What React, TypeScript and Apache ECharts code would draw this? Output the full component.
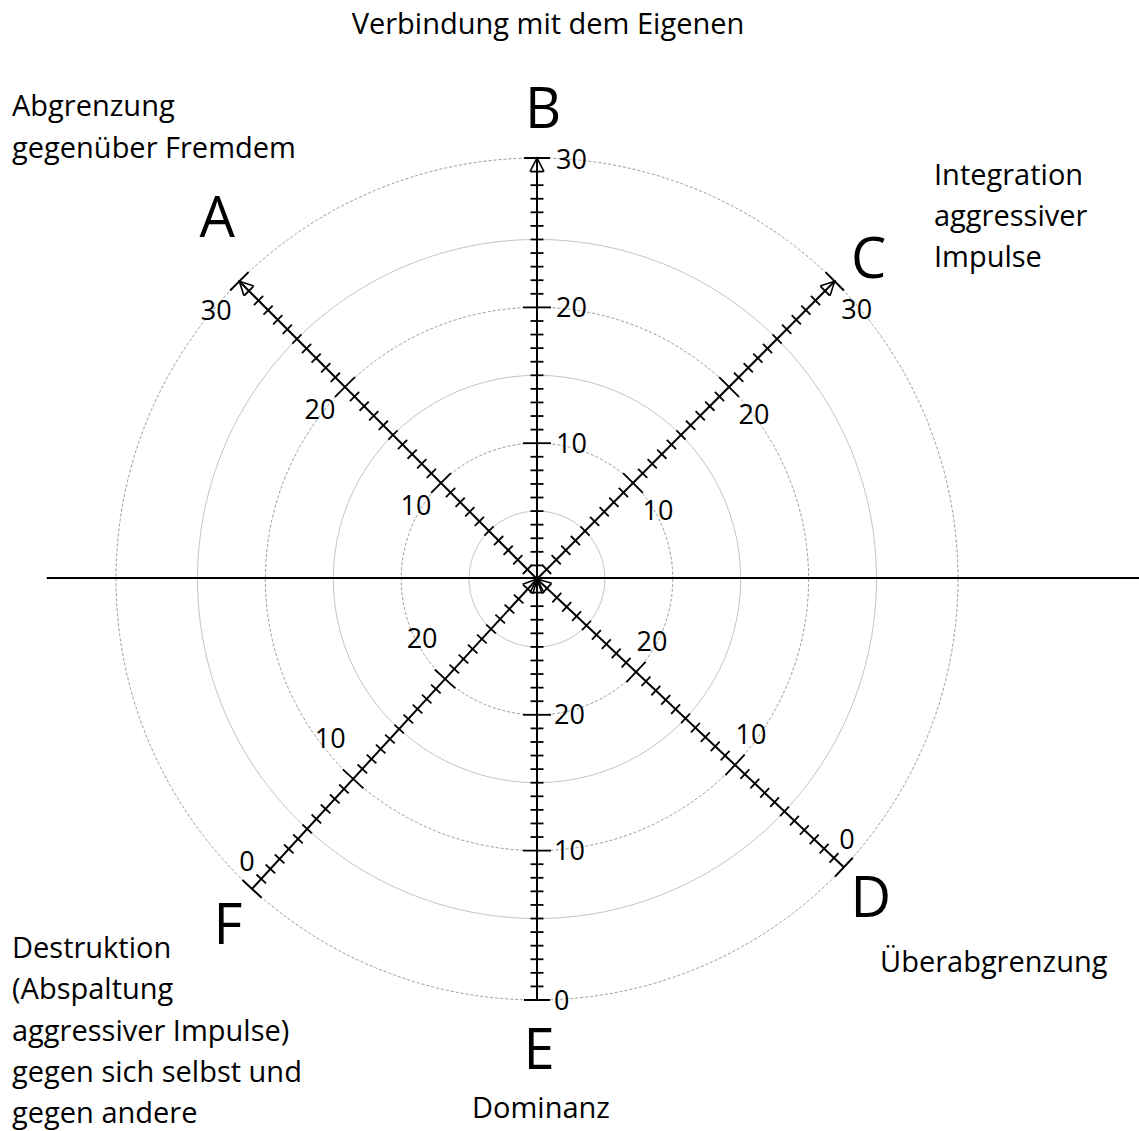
import React, { useEffect, useRef } from "react";
import * as echarts from "echarts";

// ---------- data ----------
const AXIS_NAMES = ["A", "B", "C", "D", "E", "F"];
// polar angle of each axis: 0 = up, clockwise
const AXIS_ANGLES = [315, 0, 45, 133.2, 180, 222.6];
const AXIS_REVERSED = [false, false, false, true, true, true];
const SCALE_MAX = 30; // last tick value
const AXIS_MAX = 31; // arrow / end bar position
const MAJOR_TICKS = [10, 20];
const RING_VALUES = [5, 10, 15, 20, 25, 31];
const RING_DASHED = [false, true, false, true, false, true];
const HLINE_EXTENT = [36.1, 45]; // left / right reach of the horizontal line, in axis units

const TITLE = "Verbindung mit dem Eigenen";
const DESC_A = "Abgrenzung\ngegenüber Fremdem";
const DESC_C = "Integration\naggressiver\nImpulse";
const DESC_D = "Überabgrenzung";
const DESC_E = "Dominanz";
const DESC_F =
  "Destruktion\n(Abspaltung\naggressiver Impulse)\ngegen sich selbst und\ngegen andere";

// ---------- layout / style ----------
const FONT = '"Open Sans", "Noto Sans", sans-serif';
const CENTER = [537, 579];
const RADIUS_PX = 421;
const LABEL_OFF = [
  [-25, 22],
  [19, -1],
  [25, 27],
  [16, -31],
  [17, -1],
  [-23, -41],
];
const END_LABEL_OFF = [
  [-23, 28],
  [19, 0],
  [22, 27],
  [3, -29],
  [17, -1],
  [-5, -28],
];
const LABEL_ALIGN = ["center", "left", "center", "center", "left", "center"];
const LETTER_OFF = [
  [-22, -66],
  [6, -52],
  [34, -25],
  [27, 28],
  [2, 47],
  [-24, 33],
];

export default function App() {
  const ref = useRef<HTMLDivElement>(null);

  useEffect(() => {
    if (!ref.current) return;
    const chart = echarts.init(ref.current, null, { renderer: "svg" });

    const ln = (x1: number, y1: number, x2: number, y2: number, w = 2) => ({
      type: "line",
      shape: { x1, y1, x2, y2 },
      style: { stroke: "#000", lineWidth: w },
    });
    const txt = (
      x: number,
      y: number,
      text: string,
      size: number,
      align: string = "center"
    ) => ({
      type: "text",
      x,
      y,
      style: {
        text,
        fill: "#000",
        fontSize: size,
        fontFamily: FONT,
        align,
        verticalAlign: "middle",
      },
    });

    const option: any = {
      animation: false,
      backgroundColor: "#fff",
      polar: { center: CENTER, radius: RADIUS_PX },
      radiusAxis: {
        type: "value",
        min: 0,
        max: AXIS_MAX,
        axisLine: { show: false },
        axisTick: { show: false },
        axisLabel: { show: false },
        splitLine: { show: false },
      },
      angleAxis: {
        type: "value",
        min: 0,
        max: 360,
        startAngle: 90,
        clockwise: true,
        axisLine: { show: false },
        axisTick: { show: false },
        axisLabel: { show: false },
        splitLine: { show: false },
      },
      graphic: [
        {
          type: "text",
          x: 548,
          y: 22,
          style: { text: TITLE, fill: "#000", fontSize: 29, fontFamily: FONT, align: "center", verticalAlign: "middle" },
        },
        {
          type: "text",
          x: 12,
          y: 83,
          style: { text: DESC_A, fill: "#000", fontSize: 29, fontFamily: FONT, lineHeight: 42, align: "left", verticalAlign: "top" },
        },
        {
          type: "text",
          x: 934,
          y: 153,
          style: { text: DESC_C, fill: "#000", fontSize: 29, fontFamily: FONT, lineHeight: 41, align: "left", verticalAlign: "top" },
        },
        {
          type: "text",
          x: 880,
          y: 960,
          style: { text: DESC_D, fill: "#000", fontSize: 29, fontFamily: FONT, align: "left", verticalAlign: "middle" },
        },
        {
          type: "text",
          x: 541,
          y: 1106,
          style: { text: DESC_E, fill: "#000", fontSize: 29, fontFamily: FONT, align: "center", verticalAlign: "middle" },
        },
        {
          type: "text",
          x: 12,
          y: 926,
          style: { text: DESC_F, fill: "#000", fontSize: 29, fontFamily: FONT, lineHeight: 41.3, align: "left", verticalAlign: "top" },
        },
      ],
      series: [
        {
          type: "custom",
          name: "rings",
          coordinateSystem: "polar",
          silent: true,
          data: RING_VALUES.map((r) => [r, 0]),
          renderItem: (params: any, api: any) => {
            const c = api.coord([0, 0]);
            const p = api.coord([api.value(0), 0]);
            const r = Math.hypot(p[0] - c[0], p[1] - c[1]);
            const dashed = RING_DASHED[params.dataIndex];
            return {
              type: "circle",
              shape: { cx: c[0], cy: c[1], r },
              style: {
                fill: "none",
                stroke: dashed ? "#9a9a9a" : "#c4c4c4",
                lineWidth: 1,
                lineDash: dashed ? [3, 2] : null,
              },
            };
          },
        },
        {
          type: "custom",
          name: "horizontal",
          coordinateSystem: "polar",
          silent: true,
          data: [[HLINE_EXTENT[0], 270]],
          renderItem: (params: any, api: any) => {
            const a = api.coord([HLINE_EXTENT[0], 270]);
            const b = api.coord([HLINE_EXTENT[1], 90]);
            return ln(a[0], a[1] - 1, b[0], b[1] - 1, 2);
          },
        },
        {
          type: "custom",
          name: "axes",
          coordinateSystem: "polar",
          silent: true,
          data: AXIS_ANGLES.map((a) => [AXIS_MAX, a]),
          renderItem: (params: any, api: any) => {
            const i = params.dataIndex;
            const ang = api.value(1);
            const rev = AXIS_REVERSED[i];
            const c = api.coord([0, ang]);
            const e = api.coord([AXIS_MAX, ang]);
            const len = Math.hypot(e[0] - c[0], e[1] - c[1]);
            const dx = (e[0] - c[0]) / len;
            const dy = (e[1] - c[1]) / len;
            const nx = -dy;
            const ny = dx;
            const children: any[] = [];
            children.push(ln(c[0], c[1], e[0], e[1], 2));
            for (let v = 1; v <= SCALE_MAX; v++) {
              const p = api.coord([v, ang]);
              const h = MAJOR_TICKS.includes(v) ? 14 : 6.5;
              children.push(ln(p[0] - nx * h, p[1] - ny * h, p[0] + nx * h, p[1] + ny * h, 1.8));
            }
            children.push(ln(e[0] - nx * 13, e[1] - ny * 13, e[0] + nx * 13, e[1] + ny * 13, 2));
            // arrow head
            const tip = rev ? c : e;
            const b = api.coord([rev ? 1 : SCALE_MAX, ang]);
            children.push({
              type: "polyline",
              shape: {
                points: [
                  [b[0] - nx * 7, b[1] - ny * 7],
                  tip,
                  [b[0] + nx * 7, b[1] + ny * 7],
                ],
              },
              style: { stroke: "#000", lineWidth: 1.6, fill: "none" },
            });
            // tick labels
            const lo = LABEL_OFF[i];
            MAJOR_TICKS.forEach((v) => {
              const p = api.coord([v, ang]);
              const t = rev ? SCALE_MAX - v : v;
              children.push(txt(p[0] + lo[0], p[1] + lo[1], String(t), 27, LABEL_ALIGN[i]));
            });
            const eo = END_LABEL_OFF[i];
            children.push(
              txt(e[0] + eo[0], e[1] + eo[1], String(rev ? 0 : SCALE_MAX), 27, LABEL_ALIGN[i])
            );
            // axis letter
            const lt = LETTER_OFF[i];
            children.push(txt(e[0] + lt[0], e[1] + lt[1], AXIS_NAMES[i], 56));
            return { type: "group", children };
          },
        },
      ],
    };

    chart.setOption(option);
    return () => chart.dispose();
  }, []);

  return (
    <div
      ref={ref}
      style={{ position: "absolute", left: 0, top: 0, width: 1139, height: 1131, background: "#fff" }}
    />
  );
}
